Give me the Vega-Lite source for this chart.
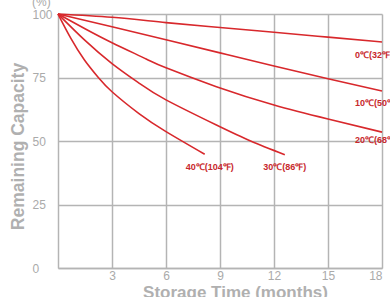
{
  "$schema": "https://vega.github.io/schema/vega-lite/v6.json",
  "width": 324,
  "height": 254,
  "autosize": "none",
  "padding": {"left": 58, "top": 14, "right": 8, "bottom": 29},
  "config": {"view": {"stroke": null}, "font": "Liberation Sans"},
  "datasets": {
    "curves": [
      {"s": "0", "t": 0, "c": 100}, {"s": "0", "t": 3, "c": 98.7}, {"s": "0", "t": 6, "c": 96.6}, {"s": "0", "t": 9, "c": 94.7}, {"s": "0", "t": 12, "c": 92.8}, {"s": "0", "t": 15, "c": 90.9}, {"s": "0", "t": 18, "c": 89},
      {"s": "10", "t": 0, "c": 100}, {"s": "10", "t": 3, "c": 95}, {"s": "10", "t": 6, "c": 89.9}, {"s": "10", "t": 9, "c": 84.7}, {"s": "10", "t": 12, "c": 79.5}, {"s": "10", "t": 15, "c": 74.5}, {"s": "10", "t": 18, "c": 69.7},
      {"s": "20", "t": 0, "c": 100}, {"s": "20", "t": 1.5, "c": 94.2}, {"s": "20", "t": 3, "c": 88.7}, {"s": "20", "t": 4.9, "c": 82.3}, {"s": "20", "t": 6, "c": 78.8}, {"s": "20", "t": 8.8, "c": 71.4}, {"s": "20", "t": 12, "c": 64.2}, {"s": "20", "t": 15, "c": 58.7}, {"s": "20", "t": 18, "c": 53.5},
      {"s": "30", "t": 0, "c": 100}, {"s": "30", "t": 1.5, "c": 89.6}, {"s": "30", "t": 3, "c": 80.5}, {"s": "30", "t": 4.5, "c": 72.8}, {"s": "30", "t": 6, "c": 66.2}, {"s": "30", "t": 8.8, "c": 56.3}, {"s": "30", "t": 10.7, "c": 50}, {"s": "30", "t": 12.6, "c": 44.6},
      {"s": "40", "t": 0, "c": 100}, {"s": "40", "t": 0.7, "c": 90.6}, {"s": "40", "t": 1.46, "c": 82}, {"s": "40", "t": 2.24, "c": 75}, {"s": "40", "t": 3, "c": 69.4}, {"s": "40", "t": 4.5, "c": 60.8}, {"s": "40", "t": 6, "c": 53.7}, {"s": "40", "t": 8.15, "c": 44.8}
    ],
    "labels": [
      {"t": 16.5, "c": 83.9, "text": "0℃(32℉)"},
      {"t": 16.5, "c": 65, "text": "10℃(50℉)"},
      {"t": 16.5, "c": 50.4, "text": "20℃(68℉)"},
      {"t": 11.4, "c": 39.6, "text": "30℃(86℉)"},
      {"t": 7.1, "c": 39.6, "text": "40℃(104℉)"}
    ],
    "unit": [{"t": 0, "c": 100, "text": "(%)"}]
  },
  "layer": [
    {
      "data": {"name": "curves"},
      "mark": {"type": "line", "interpolate": "natural", "color": "#d8282c", "strokeWidth": 1.6, "clip": false},
      "encoding": {
        "x": {"field": "t", "type": "quantitative", "scale": {"domain": [0, 18], "nice": false},
          "axis": {"values": [3, 6, 9, 12, 15, 18], "title": "Storage Time (months)", "grid": true, "gridColor": "#b4b4b4", "gridWidth": 1.5, "gridOpacity": 1,
            "domainColor": "#b4b4b4", "domainWidth": 1.5, "ticks": false, "labelColor": "#aaaaaa", "labelFontSize": 12, "labelPadding": 2,
            "titleColor": "#b0b0b0", "titleFontSize": 17, "titleFontWeight": "bold", "titleX": 177, "titleY": 16, "titleBaseline": "top", "titleAlign": "center"}},
        "y": {"field": "c", "type": "quantitative", "scale": {"domain": [0, 100], "nice": false},
          "axis": {"values": [0, 25, 50, 75, 100], "title": "Remaining Capacity", "grid": true, "gridColor": "#b4b4b4", "gridWidth": 1.5, "gridOpacity": 1,
            "domainColor": "#b4b4b4", "domainWidth": 1.5, "ticks": false, "labelColor": "#aaaaaa", "labelFontSize": 12, "labelPadding": 26, "labelAlign": "left",
            "titleColor": "#b0b0b0", "titleFontSize": 17.5, "titleFontWeight": "bold", "titleX": -40, "titleY": 132, "titleBaseline": "middle", "titleAlign": "center", "titleAngle": -90}},
        "detail": {"field": "s"}
      }
    },
    {
      "data": {"name": "labels"},
      "mark": {"type": "text", "align": "left", "baseline": "middle", "color": "#c8282c", "fontSize": 9, "fontWeight": "bold", "clip": false},
      "encoding": {
        "x": {"field": "t", "type": "quantitative"},
        "y": {"field": "c", "type": "quantitative"},
        "text": {"field": "text"}
      }
    },
    {
      "data": {"name": "unit"},
      "mark": {"type": "text", "align": "left", "baseline": "middle", "color": "#aaaaaa", "fontSize": 12, "dx": -26, "dy": -12},
      "encoding": {
        "x": {"field": "t", "type": "quantitative"},
        "y": {"field": "c", "type": "quantitative"},
        "text": {"field": "text"}
      }
    }
  ]
}
